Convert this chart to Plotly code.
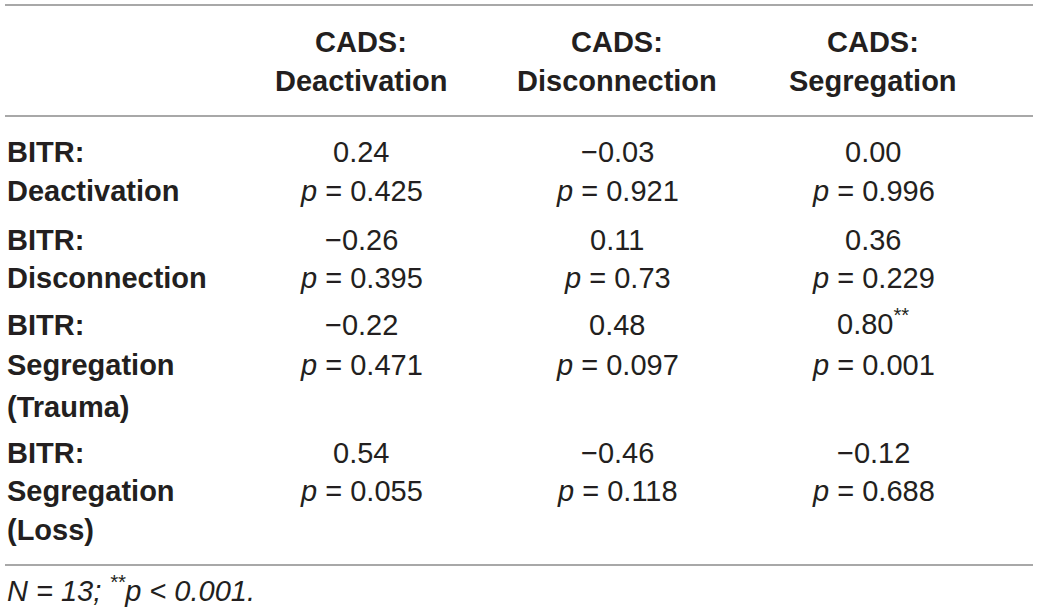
import plotly.graph_objects as go

# ---- data ----
col_labels = [["CADS:", "Deactivation"], ["CADS:", "Disconnection"], ["CADS:", "Segregation"]]
row_labels = [["BITR:", "Deactivation"],
              ["BITR:", "Disconnection"],
              ["BITR:", "Segregation", "(Trauma)"],
              ["BITR:", "Segregation", "(Loss)"]]
r_values = [["0.24", "\u22120.03", "0.00"],
            ["\u22120.26", "0.11", "0.36"],
            ["\u22120.22", "0.48", "0.80"],
            ["0.54", "\u22120.46", "\u22120.12"]]
p_values = [["0.425", "0.921", "0.996"],
            ["0.395", "0.73", "0.229"],
            ["0.471", "0.097", "0.001"],
            ["0.055", "0.118", "0.688"]]
sig_marks = [["", "", ""],
             ["", "", ""],
             ["", "", "**"],
             ["", "", ""]]
footnote = "<i>N = 13; <sup>**</sup>p &lt; 0.001.</i>"

# ---- layout constants (pixels) ----
W, H = 1039, 614
FONT = "Liberation Sans, Arial, Helvetica, sans-serif"
FS = 29
TXT = "#231f20"
LINE = "#a8a8a8"
col_x = [361, 617, 873]
label_x = 5
header_y = [42, 81]
row_y = [[152, 191], [240, 278], [325, 365, 407], [453, 491, 530]]
foot_y = 592
line_y = [5, 116, 565]
line_x0, line_x1 = 5, 1033
sup_shift = -3  # superscript enlarges the text box upward; compensate

annotations = []

def add(text, x, y, anchor="center", bold=False, size=FS, dy=0):
    annotations.append(dict(
        x=x, y=y + dy, xref="x", yref="y", text=("<b>%s</b>" % text) if bold else text,
        showarrow=False, xanchor=anchor, yanchor="middle",
        font=dict(family=FONT, size=size, color=TXT)))

for j, lines in enumerate(col_labels):
    for k, t in enumerate(lines):
        add(t, col_x[j], header_y[k], bold=True)

for i, lines in enumerate(row_labels):
    for k, t in enumerate(lines):
        add(t, label_x, row_y[i][k], anchor="left", bold=True)
    for j in range(len(col_x)):
        r = r_values[i][j]
        dy = 0
        if sig_marks[i][j]:
            r = r + "<sup>" + sig_marks[i][j] + "</sup>"
            dy = sup_shift
        add(r, col_x[j], row_y[i][0], dy=dy)
        add("<i>p</i> = " + p_values[i][j], col_x[j], row_y[i][1])

add(footnote, label_x, foot_y, anchor="left", dy=sup_shift)

shapes = [dict(type="line", xref="x", yref="y", x0=line_x0, x1=line_x1, y0=y, y1=y,
               line=dict(color=LINE, width=2)) for y in line_y]

fig = go.Figure()
fig.add_trace(go.Scatter(x=[0, W], y=[0, H], mode="markers",
                         marker=dict(opacity=0), hoverinfo="skip", showlegend=False))
fig.update_layout(
    width=W, height=H, margin=dict(l=0, r=0, t=0, b=0),
    paper_bgcolor="white", plot_bgcolor="white",
    xaxis=dict(range=[0, W], visible=False, fixedrange=True),
    yaxis=dict(range=[H, 0], visible=False, fixedrange=True),
    annotations=annotations, shapes=shapes, showlegend=False)

fig.write_html("out.html", config={"displayModeBar": False},
               post_script="document.body.style.margin='0';document.body.style.overflow='hidden';")
